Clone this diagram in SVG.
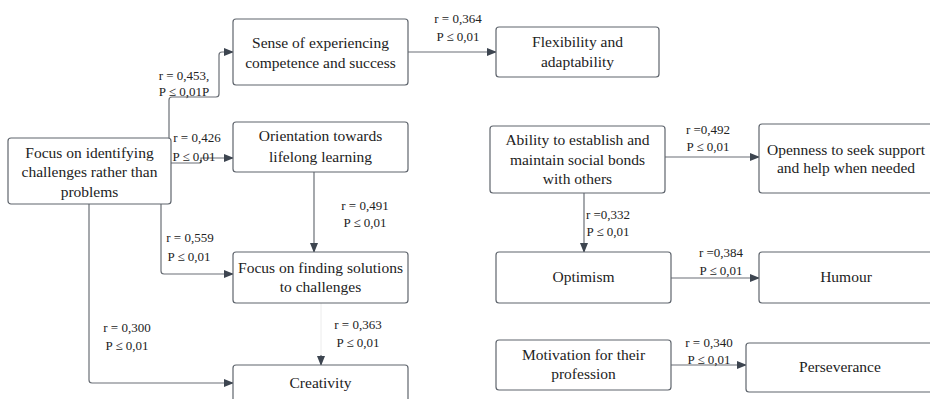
<svg xmlns="http://www.w3.org/2000/svg" width="930" height="399" viewBox="0 0 930 399" font-family="Liberation Serif, DejaVu Serif, serif">
<defs>
<marker id="ah" markerWidth="10" markerHeight="8" refX="9" refY="4" orient="auto" markerUnits="userSpaceOnUse">
<path d="M0,0 L10,4 L0,8 Z" fill="#3d4550"/>
</marker>
<style>
.box{fill:#fff;stroke:#5f656d;stroke-width:1.2}
.t{font-size:15.5px;fill:#222;text-anchor:middle}
.l{font-size:13px;fill:#222;text-anchor:middle}
.c{fill:none;stroke:#6a6f76;stroke-width:1.2}
</style>
</defs>
<rect width="930" height="399" fill="#fff"/>
<g id="connectors">
<path class="c" d="M169,138 V100 Q169,97 172,97 H216 Q219,97 219,94 V55 Q219,52 222,52 H233" marker-end="url(#ah)"/>
<path class="c" d="M171,163 H199 Q201,163 201,161 V158 H233" marker-end="url(#ah)"/>
<path class="c" d="M161,204 V271 Q161,274 164,274 H233" marker-end="url(#ah)"/>
<path class="c" d="M89,204 V380 Q89,383 92,383 H233" marker-end="url(#ah)"/>
<path class="c" d="M314,172 V252" marker-end="url(#ah)"/>
<path d="M321,303 V358" fill="none" stroke="#ececec" stroke-width="1"/>
<path class="c" d="M321,355 V365" marker-end="url(#ah)"/>
<path class="c" d="M408,52 H496" marker-end="url(#ah)"/>
<path class="c" d="M665,157 H759" marker-end="url(#ah)"/>
<path class="c" d="M584,193 V252" marker-end="url(#ah)"/>
<path class="c" d="M671,278 H759" marker-end="url(#ah)"/>
<path class="c" d="M671,365 H746" marker-end="url(#ah)"/>
</g>
<g id="labels" font-family="Liberation Serif, serif">
<text class="l" x="184" y="80">r = 0,453,</text>
<text class="l" x="184" y="96">P ≤ 0,01P</text>
<text class="l" x="197" y="142">r = 0,426</text>
<text class="l" x="194" y="161">P ≤ 0,01</text>
<text class="l" x="190" y="242">r = 0,559</text>
<text class="l" x="189" y="261">P ≤ 0,01</text>
<text class="l" x="127" y="332">r = 0,300</text>
<text class="l" x="127" y="350">P ≤ 0,01</text>
<text class="l" x="365" y="210">r = 0,491</text>
<text class="l" x="365" y="227">P ≤ 0,01</text>
<text class="l" x="358" y="329">r = 0,363</text>
<text class="l" x="358" y="347">P ≤ 0,01</text>
<text class="l" x="458" y="23">r = 0,364</text>
<text class="l" x="458" y="41">P ≤ 0,01</text>
<text class="l" x="708" y="134">r =0,492</text>
<text class="l" x="708" y="151">P ≤ 0,01</text>
<text class="l" x="608" y="219">r =0,332</text>
<text class="l" x="608" y="236">P ≤ 0,01</text>
<text class="l" x="721" y="257">r =0,384</text>
<text class="l" x="721" y="275">P ≤ 0,01</text>
<text class="l" x="709" y="347">r = 0,340</text>
<text class="l" x="709" y="364">P ≤ 0,01</text>
</g>
<g font-family="Liberation Serif, serif">
<g id="n-sense"><rect class="box" x="233" y="19" width="175" height="66" rx="3"/>
<text class="t" x="320.5" y="48">Sense of experiencing</text><text class="t" x="320.5" y="68">competence and success</text></g>
<g id="n-orient"><rect class="box" x="233" y="122" width="175" height="50" rx="3"/>
<text class="t" x="320.5" y="141">Orientation towards</text><text class="t" x="320.5" y="162">lifelong learning</text></g>
<g id="n-focusid"><rect class="box" x="8" y="138" width="163" height="66" rx="3"/>
<text class="t" x="89.5" y="158">Focus on identifying</text><text class="t" x="89.5" y="177">challenges rather than</text><text class="t" x="89.5" y="197">problems</text></g>
<g id="n-focussol"><rect class="box" x="233" y="252" width="175" height="51" rx="3"/>
<text class="t" x="320.5" y="273">Focus on finding solutions</text><text class="t" x="320.5" y="292">to challenges</text></g>
<g id="n-creativity"><rect class="box" x="233" y="365" width="175" height="50" rx="3"/>
<text class="t" x="320.5" y="388">Creativity</text></g>
<g id="n-flex"><rect class="box" x="496" y="27" width="163" height="50" rx="3"/>
<text class="t" x="577.5" y="47">Flexibility and</text><text class="t" x="577.5" y="67">adaptability</text></g>
<g id="n-ability"><rect class="box" x="490" y="126" width="175" height="67" rx="3"/>
<text class="t" x="577.5" y="145">Ability to establish and</text><text class="t" x="577.5" y="165">maintain social bonds</text><text class="t" x="577.5" y="184">with others</text></g>
<g id="n-openness"><rect class="box" x="759" y="124" width="180" height="69" rx="3"/>
<text class="t" x="846" y="155">Openness to seek support</text><text class="t" x="846" y="173">and help when needed</text></g>
<g id="n-optimism"><rect class="box" x="496" y="252" width="175" height="51" rx="3"/>
<text class="t" x="583.5" y="282">Optimism</text></g>
<g id="n-humour"><rect class="box" x="759" y="252" width="180" height="51" rx="3"/>
<text class="t" x="846" y="282">Humour</text></g>
<g id="n-motivation"><rect class="box" x="496" y="340" width="175" height="50" rx="3"/>
<text class="t" x="583.5" y="360">Motivation for their</text><text class="t" x="583.5" y="379">profession</text></g>
<g id="n-persev"><rect class="box" x="746" y="343" width="190" height="49" rx="3"/>
<text class="t" x="840" y="372">Perseverance</text></g>
</g>
</svg>
